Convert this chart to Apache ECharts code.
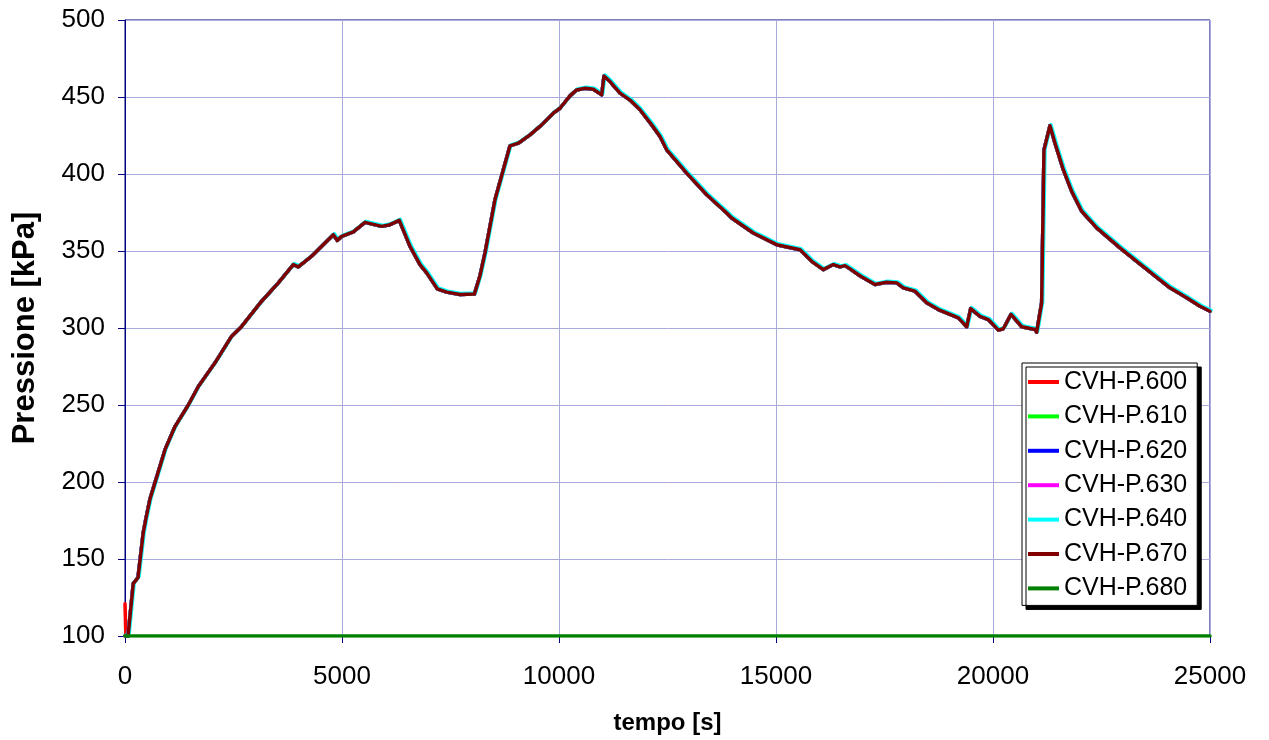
<!DOCTYPE html>
<html>
<head>
<meta charset="utf-8">
<title>Pressione CVH</title>
<script src="https://cdn.jsdelivr.net/npm/echarts@6/dist/echarts.min.js"></script>
<style>
  html, body { margin: 0; padding: 0; background: #ffffff; }
  #chart { width: 1269px; height: 740px; }
</style>
</head>
<body>
<div id="chart"></div>
<script>
// Control volume pressure history (kPa) against time (s)
const serieNomi = ['CVH-P.600', 'CVH-P.610', 'CVH-P.620', 'CVH-P.630', 'CVH-P.640', 'CVH-P.670', 'CVH-P.680'];
const serieColori = ['#ff0000', '#00ff00', '#0000ff', '#ff00ff', '#00ffff', '#800000', '#008000'];

const tempo = [
  0, 70, 190, 300, 420, 480, 576, 691, 922, 1152, 1459, 1690, 2074, 2458, 2688,
  3149, 3533, 3878, 3993, 4301, 4608, 4800, 4892, 4992, 5261, 5530, 5914, 6106, 6320,
  6567, 6797, 6951, 7196, 7412, 7719, 8050, 8180, 8295, 8525, 8717, 8871, 9062, 9332,
  9601, 9869, 10023, 10253, 10407, 10599, 10790, 10984, 11037, 11175, 11406, 11636,
  11866, 12136, 12327, 12481, 12942, 13403, 13864, 13979, 14477, 15015, 15553, 15822,
  16090, 16321, 16475, 16590, 16705, 16950, 17281, 17550, 17781, 17934, 18203, 18472,
  18740, 19009, 19201, 19394, 19486, 19700, 19892, 20123, 20238, 20415, 20661, 20968,
  21006, 21121, 21175, 21313, 21429, 21620, 21813, 22043, 22389, 22657, 22926, 23311,
  23694, 24078, 24462, 24770, 25000
];
const pressione = [
  100, 100, 134, 138, 167, 176, 189, 199.6, 221, 236, 250, 262, 277.4, 294.7, 301,
  317.4, 329.3, 341.2, 339.7, 346.6, 355.2, 360.6, 356.9, 359.5, 362.4, 368.6, 366, 367.1, 369.9,
  353, 341.2, 335.8, 325.4, 323.3, 321.7, 322, 334, 348.8, 383.3, 402.8, 418.3, 420, 425.4,
  431.9, 439.5, 442.7, 450.7, 454.6, 455.7, 455, 451.4, 463.7, 460, 452.5, 448,
  441.7, 431.9, 424.4, 415.7, 400.6, 386.5, 374.7, 371.4, 361.7, 354.1, 350.8, 343.3,
  337.9, 341.2, 339.7, 340.5, 338.4, 333.6, 328.2, 329.7, 329.3, 326.1, 323.9, 316.4,
  312, 308.8, 306.6, 300.8, 312.6, 307.6, 305.5, 298.6, 299.5, 308.8, 300.8, 299,
  297.3, 316.3, 415.7, 431.3, 420, 402.8, 388.7, 375.8, 365, 358.5, 352, 343.3,
  334.7, 326.1, 319.6, 314.1, 310.9
];
// P.600 starts from a short initial value before joining the common history
const avvioP600 = [[0, 121], [20, 100]];
// P.680 stays at ambient pressure over the whole run
const tempoP680 = [0, 25000];
const pressioneP680 = [100, 100];

const axisBlue = '#000080';
const gridBlue = '#aaaadd';
const font = 'Liberation Sans, Arial, sans-serif';

const storia = tempo.map((t, i) => [t, pressione[i]]);

function datiSerie(nome) {
  if (nome === 'CVH-P.680') return tempoP680.map((t, i) => [t, pressioneP680[i]]);
  if (nome === 'CVH-P.600') return avvioP600.concat(storia.slice(1));
  return storia;
}

const series = serieNomi.map((nome, i) => {
  const lineStyle = { color: serieColori[i], width: 3.5, join: 'round', cap: 'round' };
  if (nome === 'CVH-P.640') {
    // thin cyan fringe visible along the upper edge of the dark curve
    Object.assign(lineStyle, { shadowColor: '#00ffff', shadowBlur: 0, shadowOffsetX: 1, shadowOffsetY: -1 });
  }
  return {
    name: nome,
    type: 'line',
    data: datiSerie(nome),
    showSymbol: false,
    symbol: 'none',
    lineStyle: lineStyle,
    itemStyle: { color: serieColori[i] },
    z: 2 + i
  };
});

const chart = echarts.init(document.getElementById('chart'), null, { renderer: 'canvas' });
chart.setOption({
  animation: false,
  backgroundColor: '#ffffff',
  textStyle: { fontFamily: font },
  grid: {
    left: 125, top: 20, right: 59, bottom: 103,
    show: true, borderColor: axisBlue, borderWidth: 1, backgroundColor: '#ffffff'
  },
  xAxis: {
    type: 'value',
    min: 0, max: 25000, interval: 5000,
    name: 'tempo [s]',
    nameLocation: 'middle',
    nameGap: 75,
    nameTextStyle: { fontSize: 24, fontWeight: 'bold', color: '#000', fontFamily: font },
    axisLine: { show: true, onZero: false, lineStyle: { color: axisBlue, width: 1 } },
    axisTick: { show: true, inside: false, length: 7, lineStyle: { color: axisBlue } },
    axisLabel: { fontSize: 26, color: '#000', margin: 28, fontFamily: font, formatter: v => String(v) },
    splitLine: { show: true, lineStyle: { color: gridBlue, width: 1 } }
  },
  yAxis: {
    type: 'value',
    min: 100, max: 500, interval: 50,
    name: 'Pressione [kPa]',
    nameLocation: 'middle',
    nameGap: 84,
    nameRotate: 90,
    nameTextStyle: { fontSize: 31, fontWeight: 'bold', color: '#000', fontFamily: font },
    axisLine: { show: true, onZero: false, lineStyle: { color: axisBlue, width: 1 } },
    axisTick: { show: true, inside: false, length: 7, lineStyle: { color: axisBlue } },
    axisLabel: { fontSize: 26, color: '#000', margin: 20, fontFamily: font, formatter: v => String(v) },
    splitLine: { show: true, lineStyle: { color: gridBlue, width: 1 } }
  },
  legend: {
    orient: 'vertical',
    left: 1022,
    top: 363,
    padding: [5, 10, 3, 6],
    itemWidth: 31,
    itemHeight: 4,
    itemGap: 6.4,
    backgroundColor: '#ffffff',
    borderColor: '#000000',
    borderWidth: 1,
    borderRadius: 0,
    shadowColor: '#000000',
    shadowBlur: 0,
    shadowOffsetX: 4,
    shadowOffsetY: 4,
    textStyle: { fontSize: 25, color: '#000', lineHeight: 28, fontFamily: font },
    data: serieNomi.map(n => ({ name: n, icon: 'rect' }))
  },
  series: series
});
</script>
</body>
</html>
